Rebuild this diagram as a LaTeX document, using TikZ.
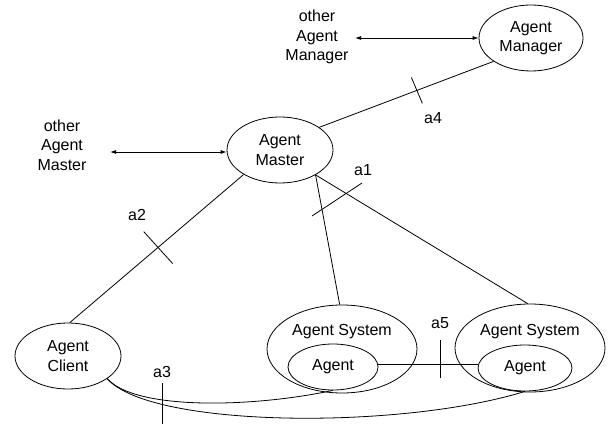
\documentclass[tikz,border=0pt]{standalone}
\usepackage{fontspec}
\setmainfont{Liberation Sans}
\usetikzlibrary{shapes.geometric,arrows.meta,calc}
\begin{document}
\begin{tikzpicture}[x=1pt,y=-1pt,
  every node/.style={font=\fontsize{16}{19.5}\selectfont},
  ell/.style={ellipse, draw, line width=0.8pt, inner sep=0pt, align=center},
  lbl/.style={align=center, inner sep=0pt},
  conn/.style={line width=0.8pt},
  biarrow/.style={line width=0.8pt, {Latex[length=6pt,width=4pt]}-{Latex[length=6pt,width=4pt]}}]
\useasboundingbox (0,0) rectangle (609,427);

% ellipses
\node[ell, minimum width=104pt, minimum height=66pt] (mgr) at (531,38) {Agent\\Manager};
\node[ell, minimum width=106pt, minimum height=66pt] (master) at (280,150) {Agent\\Master};
\node[ell, minimum width=106pt, minimum height=66pt] (client) at (68,356) {Agent\\Client};
\node[ell, minimum width=150pt, minimum height=88pt] (sys1) at (342,349) {};
\node[ell, minimum width=150pt, minimum height=88pt] (sys2) at (530,348) {};
\node[lbl] (sys1t) at (342,332) {Agent System};
\node[lbl] (sys2t) at (530,332) {Agent System};
\node[ell, minimum width=90pt, minimum height=46pt] (ag1) at (333,367) {Agent};
\node[ell, minimum width=94pt, minimum height=46pt] (ag2) at (525,368) {Agent};

% free texts
\node[lbl] (omgr) at (317,37) {other\\Agent\\Manager};
\node[lbl] (omaster) at (62,145) {other\\Agent\\Master};

% arrows
\coordinate (omgrend) at (355,38);
\coordinate (omasend) at (110,152);
\draw[biarrow] (omgrend) -- (mgr.west);
\draw[biarrow] (omasend) -- (master.west |- omasend);

% connectors
\draw[conn] (mgr.212) -- coordinate[pos=0.44] (t4) (master.30);
\draw[conn] ($(t4)+(-5.5,-13)$) -- ($(t4)+(5.5,13)$);
\node[lbl] (a4) at (433,118) {a4};

\draw[conn] (master.214) -- coordinate[pos=0.494] (t2) (client.87);
\draw[conn] ($(t2)+(-14,-16)$) -- ($(t2)+(15,16)$);
\node[lbl] (a2) at (137,215) {a2};

\draw[conn] (master.325) -- (sys1.93);
\draw[conn] (master.325) -- (sys2.93);
\coordinate (t1a) at (312,216);
\coordinate (t1b) at (362,183);
\draw[conn] (t1a) -- (t1b);
\node[lbl] (a1) at (363,170) {a1};

\draw[conn] (ag1.east |- 0,364) -- (ag2.west |- 0,364);
\coordinate (t5a) at (440,340);
\coordinate (t5b) at (440,378);
\draw[conn] (t5a) -- (t5b);
\node[lbl] (a5) at (440,323) {a5};

\draw[conn] (client.330) .. controls (135,410) and (250,408) .. (ag1.south);
\draw[conn] (client.330) .. controls (150,428) and (400,430) .. (ag2.south);
\coordinate (t3a) at (162,383);
\coordinate (t3b) at (162,424);
\draw[conn] (t3a) -- (t3b);
\node[lbl] (a3) at (162,372) {a3};
\end{tikzpicture}
\end{document}
